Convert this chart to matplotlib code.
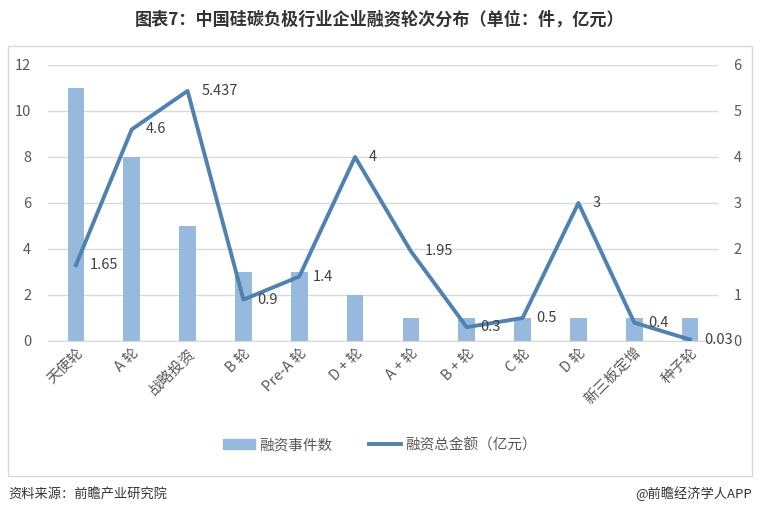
import matplotlib.pyplot as plt
import matplotlib.patches as mpatches
import numpy as np

plt.rcParams['font.family'] = ['Noto Sans CJK SC', 'DejaVu Sans']

categories = ['天使轮', 'A 轮', '战略投资', 'B 轮', 'Pre-A 轮', 'D + 轮', 'A + 轮',
              'B + 轮', 'C 轮', 'D 轮', '新三板定增', '种子轮']
event_counts = [11, 8, 5, 3, 3, 2, 1, 1, 1, 1, 1, 1]
amounts = [1.65, 4.6, 5.437, 0.9, 1.4, 4, 1.95, 0.3, 0.5, 3, 0.4, 0.03]
amount_labels = ['1.65', '4.6', '5.437', '0.9', '1.4', '4', '1.95', '0.3', '0.5', '3', '0.4', '0.03']

bar_color = '#98b9de'
line_color = '#4f81b1'
text_color = '#595959'

fig = plt.figure(figsize=(7.6, 5.16), dpi=100)

# outer frame
fig.patches.append(mpatches.Rectangle((8 / 760, 1 - 476 / 516), 744 / 760, 430 / 516,
                                      transform=fig.transFigure, fill=False,
                                      edgecolor='#d9d9d9', linewidth=1))

ax = fig.add_axes([48 / 760, 1 - 341 / 516, 670 / 760, 276 / 516])
x = np.arange(len(categories))
ax.bar(x, event_counts, width=0.3, color=bar_color, zorder=2)
ax.set_ylim(0, 12)
ax.set_yticks(range(0, 13, 2))
ax.set_xlim(-0.5, len(categories) - 0.5)
ax.set_xticks(x)
ax.set_xticklabels(categories, rotation=45, ha='right', va='top',
                   rotation_mode='anchor', fontsize=10.5, color=text_color)
ax.tick_params(axis='both', length=0, colors=text_color, labelsize=10.5)
ax.tick_params(axis='y', pad=12)
ax.grid(axis='y', color='#d9d9d9', linewidth=1, zorder=0)
for s in ['top', 'left', 'right']:
    ax.spines[s].set_visible(False)
ax.spines['bottom'].set_color('#d9d9d9')

ax2 = ax.twinx()
ax2.plot(x, amounts, color=line_color, linewidth=2.8, zorder=3)
ax2.set_ylim(0, 6)
ax2.set_yticks(range(0, 7))
ax2.tick_params(axis='y', length=0, colors=text_color, labelsize=10.5, pad=11)
for s in ['top', 'left', 'right', 'bottom']:
    ax2.spines[s].set_visible(False)

for xi, v, lab in zip(x, amounts, amount_labels):
    ax2.annotate(lab, (xi, v), xytext=(10, 0), textcoords='offset points',
                 ha='left', va='center', fontsize=10.5, color='#404040')

fig.text(0.5, 1 - 20 / 516, '图表7：中国硅碳负极行业企业融资轮次分布（单位：件，亿元）',
         ha='center', va='center', fontsize=12.3, fontweight='bold', color='#333333')

handles = [mpatches.Patch(color=bar_color, label='融资事件数'),
           plt.Line2D([], [], color=line_color, linewidth=2.8, label='融资总金额（亿元）')]
fig.legend(handles=handles, loc='center', bbox_to_anchor=(0.5, 1 - 445 / 516), ncol=2,
           frameon=False, fontsize=10.5, labelcolor=text_color, handlelength=2.2,
           handletextpad=0.3, columnspacing=2.5)

fig.text(8 / 760, 1 - 494 / 516, '资料来源：前瞻产业研究院', ha='left', va='center',
         fontsize=9.5, color='#333333')
fig.text(752 / 760, 1 - 494 / 516, '@前瞻经济学人APP', ha='right', va='center',
         fontsize=9.5, color='#333333')

fig.savefig('out.png', dpi=100)
